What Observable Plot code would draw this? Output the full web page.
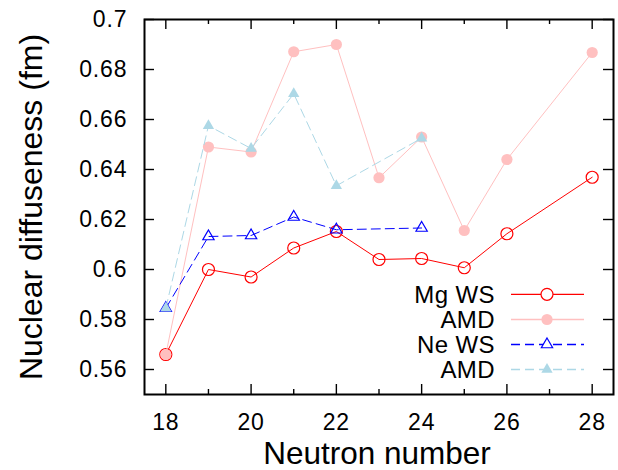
<!DOCTYPE html>
<html><head><meta charset="utf-8">
<script src="https://cdn.jsdelivr.net/npm/d3@7"></script>
<script src="https://cdn.jsdelivr.net/npm/@observablehq/plot@0.6"></script>
<style>
body{margin:0;background:#fff;}
#chart svg{font-family:"Liberation Sans",Arial,Helvetica,sans-serif;}
</style></head><body><div id="chart"></div>
<script>
// Neutron numbers
const mgN = [18, 19, 20, 21, 22, 23, 24, 25, 26, 28];
const neN = [18, 19, 20, 21, 22, 24];
// Nuclear diffuseness (fm)
const mgWS  = [0.566, 0.600, 0.597, 0.6086, 0.6152, 0.604, 0.6044, 0.6007, 0.6143, 0.6369];
const mgAMD = [0.566, 0.649, 0.647, 0.6871, 0.690, 0.6367, 0.653, 0.6156, 0.644, 0.6868];
const neWS  = [0.5845, 0.6132, 0.6136, 0.621, 0.6159, 0.6166];
const neAMD = [0.5845, 0.6575, 0.6484, 0.6703, 0.6335, 0.6525];
// ticks
const xTicks = [18, 20, 22, 24, 26, 28];
const xMinor = [19, 21, 23, 25, 27];
const yTicks = [0.56, 0.58, 0.60, 0.62, 0.64, 0.66, 0.68, 0.70];
const seriesNames = ["Mg WS", "AMD", "Ne WS", "AMD"];
const xTitle = "Neutron number";
const yTitle = "Nuclear diffuseness (fm)";

const series = [
  {name: seriesNames[0], xs: mgN, ys: mgWS,  color: "#ff0000", dash: null,  symbol: "circle",   r: 6,   filled: false},
  {name: seriesNames[1], xs: mgN, ys: mgAMD, color: "#ffc0c0", dash: null,  symbol: "circle",   r: 5.6, filled: true},
  {name: seriesNames[2], xs: neN, ys: neWS,  color: "#0000ff", dash: "9,5", symbol: "triangle", r: 4.2, filled: false},
  {name: seriesNames[3], xs: neN, ys: neAMD, color: "#add8e6", dash: "9,5", symbol: "triangle", r: 4.2, filled: true}
];

const W = 618, H = 470, mL = 144, mR = 5, mT = 19, mB = 76;
const fw = W - mL - mR, fh = H - mT - mB;

const marks = [];
for (const s of series) {
  const rows = s.xs.map((n, i) => ({n, v: s.ys[i]}));
  marks.push(Plot.line(rows, {x: "n", y: "v", stroke: s.color, strokeWidth: 1, strokeDasharray: s.dash}));
  marks.push(Plot.dot(rows, {x: "n", y: "v", symbol: s.symbol, r: s.r,
    stroke: s.filled ? "none" : s.color, fill: s.filled ? s.color : "none", strokeWidth: 1.2}));
}

const fmtY = d => String(+d.toFixed(2));
const tickStyle = {stroke: "#000", strokeWidth: 1.4};

const chart = Plot.plot({
  width: W, height: H,
  marginLeft: mL, marginRight: mR, marginTop: mT, marginBottom: mB,
  style: {fontFamily: "'Liberation Sans', Arial, Helvetica, sans-serif", background: "#fff"},
  x: {domain: [17.5, 28.5]},
  y: {domain: [0.55, 0.70]},
  marks: [
    // tick labels
    Plot.axisX({anchor: "bottom", ticks: xTicks, tickSize: 0, tickPadding: 19, fontSize: 23, label: null, fill: "#000"}),
    Plot.axisY({anchor: "left", ticks: yTicks, tickSize: 0, tickPadding: 17, fontSize: 23, tickFormat: fmtY, label: null, fill: "#000"}),
    ...marks,
    // inward ticks on all four sides
    Plot.tickX(xTicks, {x: d => d, insetTop: fh - 10, ...tickStyle}),
    Plot.tickX(xTicks, {x: d => d, insetBottom: fh - 10, ...tickStyle}),
    Plot.tickX(xMinor, {x: d => d, insetTop: fh - 5, ...tickStyle}),
    Plot.tickX(xMinor, {x: d => d, insetBottom: fh - 5, ...tickStyle}),
    Plot.tickY(yTicks, {y: d => d, insetRight: fw - 10, ...tickStyle}),
    Plot.tickY(yTicks, {y: d => d, insetLeft: fw - 10, ...tickStyle}),
    Plot.frame({stroke: "#000", strokeWidth: 2})
  ]
});

const svg = d3.select(chart);
svg.selectAll('g[aria-label="x-axis tick label"] text, g[aria-label="y-axis tick label"] text')
  .attr("letter-spacing", "0.9px");

// axis titles
svg.append("text").attr("x", 377).attr("y", 464).attr("text-anchor", "middle")
  .attr("font-size", 31.5).attr("fill", "#000").text(xTitle);
svg.append("text").attr("transform", "translate(42,207) rotate(-90)").attr("text-anchor", "middle")
  .attr("font-size", 32).attr("fill", "#000").text(yTitle);

// legend (bottom right, inside the frame)
const lg = svg.append("g").attr("class", "legend");
const rowsY = [294.3, 319.5, 344.5, 369.5];
series.forEach((s, i) => {
  const y = rowsY[i];
  lg.append("text").attr("x", 495).attr("y", y).attr("dy", "0.36em")
    .attr("text-anchor", "end").attr("font-size", 24).attr("letter-spacing", "0.4px").attr("fill", "#000").text(s.name);
  lg.append("line").attr("x1", 511).attr("x2", 584).attr("y1", y).attr("y2", y)
    .attr("stroke", s.color).attr("stroke-width", 1.3).attr("stroke-dasharray", s.dash);
  const sym = d3.symbol(s.symbol === "circle" ? d3.symbolCircle : d3.symbolTriangle, Math.PI * s.r * s.r);
  lg.append("path").attr("d", sym()).attr("transform", `translate(547,${y})`)
    .attr("fill", s.filled ? s.color : "#fff").attr("stroke", s.filled ? "none" : s.color).attr("stroke-width", 1.2);
});

document.getElementById("chart").appendChild(chart);
</script></body></html>
